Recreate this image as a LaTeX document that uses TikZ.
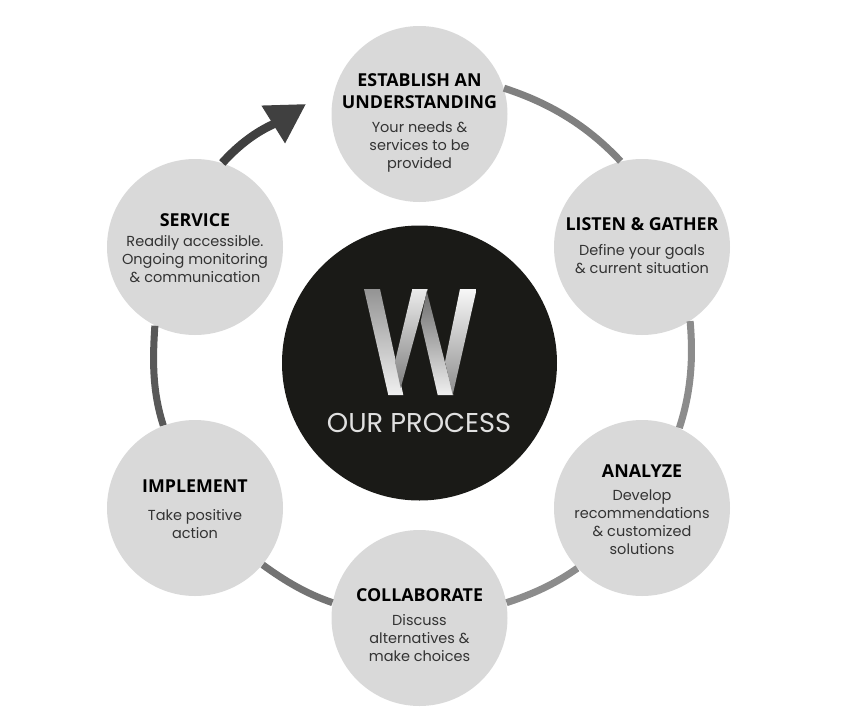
\documentclass[tikz,border=0pt]{standalone}
\usepackage{fontspec}
\usetikzlibrary{arrows.meta}
\newfontfamily\titlefont{Open Sans}
\newfontfamily\bodyfont{Poppins}
\definecolor{stagegray}{HTML}{D9D9D9}
\definecolor{coregray}{HTML}{1A1A17}
\definecolor{arrowgray}{HTML}{404040}
\tikzset{
	stage/.style={circle, fill=stagegray, minimum size=176*0.02cm, inner sep=0pt},
	titletext/.style={font=\titlefont\bfseries\fontsize{10.15}{12.6}\selectfont, text=black, align=center, inner sep=0pt},
	bodytext/.style={font=\bodyfont\fontsize{8.25}{10.2}\selectfont, text=black!80, align=center, inner sep=0pt},
	ring/.style={line width=4pt, looseness=0.9},
	metal/.style={draw=none, shading angle=0},
}
\begin{document}
\begin{tikzpicture}[x=0.02cm, y=-0.02cm]
	\useasboundingbox (0,0) rectangle (843,724);
	\node[stage] (establish) at (419.5,114){};
	\node[stage] (listen) at (642,247){};
	\node[stage] (analyze) at (642,508){};
	\node[stage] (collaborate) at (419.5,618){};
	\node[stage] (implement) at (195,508){};
	\node[stage] (service) at (195,247){};
	\node[circle, fill=coregray, minimum size=275*0.02cm, inner sep=0pt] (core) at (419.5,363){};
	\coordinate (tip) at (306,104);
	% ring
	\draw[ring, draw=black!50] (establish.17) to[out=-18, in=133] (listen.104);
	\draw[ring, draw=black!45] (listen.-57) to[out=-85, in=72] (analyze.65);
	\draw[ring, draw=black!45] (analyze.-137) to[out=-145, in=18] (collaborate.10);
	\draw[ring, draw=black!55] (collaborate.170) to[out=161, in=-36] (implement.-40);
	\draw[ring, draw=black!65] (implement.111) to[out=108, in=-94] (service.-117);
	\draw[line width=4.8pt, draw=arrowgray, -{Triangle[length=22pt, width=24pt]}] (service.72) to[out=48, in=212] (tip);
	% W
	\shade[metal, top color=black!42, bottom color=black!6] (364,289)--(380,289)--(403.3,395)--(388.3,395)--cycle;
	\shade[metal, top color=black!8, bottom color=black!50] (412.3,289)--(427.7,289)--(400.7,388)--(395,361.7)--cycle;
	\shade[metal, top color=black!58, bottom color=black!6] (426.7,291)--(453.3,395)--(437.7,395)--(420.7,321.7)--cycle;
	\shade[metal, top color=black!3, bottom color=black!45] (460,289)--(476.7,289)--(452.7,395)--(445,361.7)--cycle;
	% labels
	\node[font=\bodyfont\fontsize{15.5}{17}\selectfont, text=black!12, inner sep=0pt] (corelabel) at (419,423){OUR PROCESS};
	\node[titletext] (establishtitle) at (419.5,91.5){ESTABLISH AN\\UNDERSTANDING};
	\node[bodytext] (establishbody) at (419.5,147){Your needs \&\\services to be\\provided};
	\node[titletext] (listentitle) at (642,224.5){LISTEN \& GATHER};
	\node[bodytext] (listenbody) at (642,259){Define your goals\\\& current situation};
	\node[titletext] (analyzetitle) at (642,471.5){ANALYZE};
	\node[bodytext] (analyzebody) at (642,522){Develop\\recommendations\\\& customized\\solutions};
	\node[titletext] (collaboratetitle) at (419.5,595.5){COLLABORATE};
	\node[bodytext] (collaboratebody) at (419.5,638){Discuss\\alternatives \&\\make choices};
	\node[titletext] (implementtitle) at (195,486.5){IMPLEMENT};
	\node[bodytext] (implementbody) at (195,524){Take positive\\action};
	\node[titletext] (servicetitle) at (195,220.5){SERVICE};
	\node[bodytext] (servicebody) at (195,259){Readily accessible.\\Ongoing monitoring\\\& communication};
\end{tikzpicture}
\end{document}
